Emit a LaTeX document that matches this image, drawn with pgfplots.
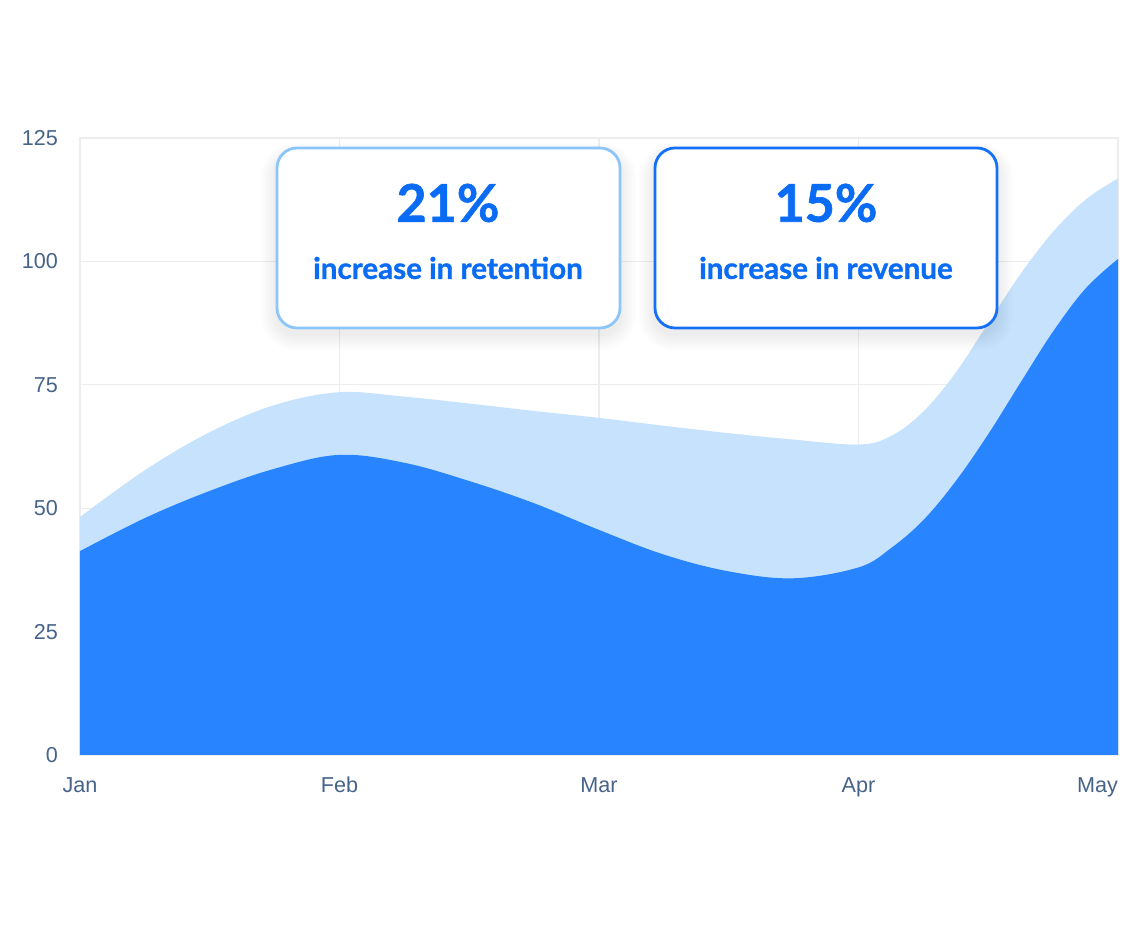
\documentclass[border=0pt]{standalone}
\usepackage{fontspec}
\setmainfont{Liberation Sans}
\newfontfamily\boxfont{Lato}[BoldFeatures={FakeBold=1.2}]
\usepackage{pgfplots}
\pgfplotsset{compat=1.18}
\definecolor{darkarea}{HTML}{2984FF}
\definecolor{lightarea}{HTML}{C6E2FD}
\definecolor{gridc}{HTML}{ECEDEF}
\definecolor{tickc}{HTML}{46638A}
\definecolor{boxone}{HTML}{8CC6F9}
\definecolor{boxtwo}{HTML}{1470F7}
\definecolor{txtblue}{HTML}{0A6CF5}

% values, x in months (0 = Jan)
\pgfplotstableread{
x      light  dark
0      48.2   41.3
0.25   57.7   48.0
0.5    65.4   53.5
0.75   70.9   58.0
1      73.5   60.8
1.25   72.6   59.2
1.5    71.2   55.5
1.75   69.7   51.0
2      68.3   45.6
2.25   66.7   40.6
2.5   65.2   37.2
2.75   63.9   35.8
3      62.9   38.0
3.125  64.6   41.9
3.25   69.6   47.6
3.375  77.5   55.5
3.5    87.5   65.0
3.625  97.5   75.5
3.75   106.0  85.8
3.875  112.5  94.5
4      116.8  100.5
}\curves

\begin{document}
\begin{tikzpicture}
\path[use as bounding box] (0,0) rectangle (570pt,465pt);
\begin{axis}[
  at={(40pt,87.5pt)}, anchor=south west,
  scale only axis, width=519pt, height=308.5pt,
  xmin=0, xmax=4, ymin=0, ymax=125,
  xtick={0,1,2,3,4},
  xticklabels={Jan,Feb,Mar,Apr,\hbox to 0pt{\hss May}},
  ytick={0,25,50,75,100,125},
  major tick length=0pt,
  grid=major,
  grid style={gridc, line width=0.6pt},
  axis line style={gridc, line width=0.8pt},
  tick label style={font=\fontsize{10.8}{12}\selectfont, text=tickc},
  /pgf/number format/assume math mode=true,
  yticklabel style={xshift=-7.5pt},
  xticklabel style={anchor=base, yshift=-19pt},
]
\addplot[draw=none, fill=lightarea, smooth, tension=0.6]
  table[x=x, y=light] {\curves} \closedcycle;
\addplot[draw=none, fill=darkarea, smooth, tension=0.6]
  table[x=x, y=dark] {\curves} \closedcycle;
\end{axis}

% callout boxes with a soft shadow
\foreach \xa/\xb/\col in {138.5/310/boxone, 327.5/498.5/boxtwo}{
  \foreach \s in {1,...,9}{
    \fill[black, opacity=0.007, rounded corners=10pt+\s*0.8pt]
      (\xa pt-\s*0.9pt,301pt-3pt-\s*0.9pt) rectangle (\xb pt+\s*0.9pt,391pt-3pt+\s*0.6pt);
  }
  \draw[\col, line width=1.4pt, fill=white, rounded corners=10pt] (\xa pt,301pt) rectangle (\xb pt,391pt);
}
\node[text=txtblue, font=\boxfont\bfseries\fontsize{26}{30}\selectfont] at (224pt,363.5pt) {21\%};
\node[text=txtblue, font=\boxfont\bfseries\fontsize{14.8}{17}\selectfont] at (224pt,331pt) {increase in retention};
\node[text=txtblue, font=\boxfont\bfseries\fontsize{26}{30}\selectfont] at (413pt,363.5pt) {15\%};
\node[text=txtblue, font=\boxfont\bfseries\fontsize{14.8}{17}\selectfont] at (413pt,331pt) {increase in revenue};
\end{tikzpicture}
\end{document}
